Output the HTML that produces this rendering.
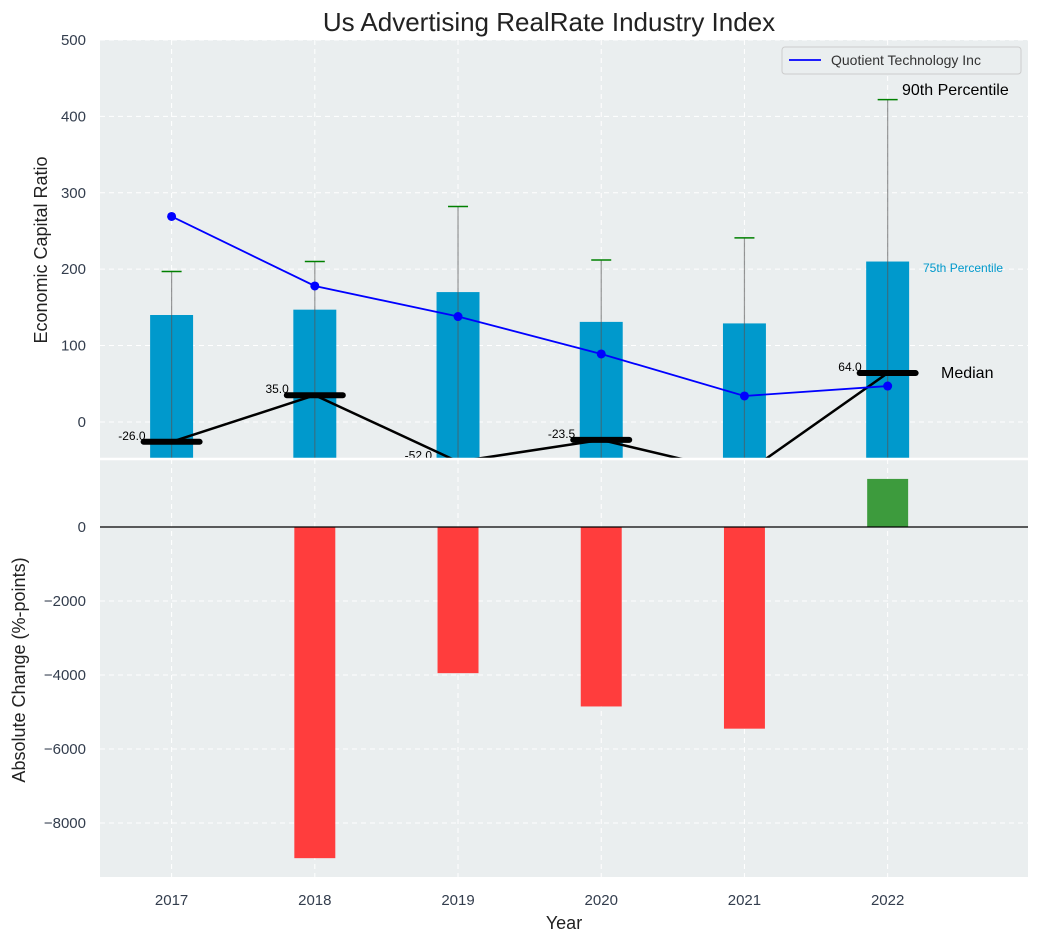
<!DOCTYPE html>
<html><head><meta charset="utf-8"><style>
body{margin:0;background:#fff;font-family:"Liberation Sans","DejaVu Sans",sans-serif}
</style></head><body>
<svg id="c" width="1039" height="942" xmlns="http://www.w3.org/2000/svg"></svg>
<script>
const years=[2017,2018,2019,2020,2021,2022];
const p75=[140,147,170,131,129,210];
const p90=[197,210,282,212,241,422];
const medians=[-26,35,-52,-23.5,-68,64];
const quotient=[269,178,138,89,34,47];
const changes=[0,-8950,-3950,-4850,-5450,1300];
const topTicks=[0,100,200,300,400,500];
const botTicks=[0,-2000,-4000,-6000,-8000];

const svg=document.getElementById('c');const NS='http://www.w3.org/2000/svg';
function el(t,a,p){const e=document.createElementNS(NS,t);for(const k in a)e.setAttribute(k,a[k]);(p||svg).appendChild(e);return e;}
const L=100,R=1028,T1=40,B1=459,T2=459,B2=877;
const x=v=>L+(v-2016.5)/(2022.98-2016.5)*(R-L);
const y1=v=>T1+(500-v)/(500+48.5)*(B1-T1);
const y2=v=>T2+(1838-v)/(1838+9459)*(B2-T2);
let t=el('text',{x:549,y:31,'text-anchor':'middle','font-size':26,fill:'#222'});t.textContent='Us Advertising RealRate Industry Index';

let bg=el('rect',{x:L,y:T1,width:R-L,height:B1-T1,fill:'#eaeeef'});
bg=el('rect',{x:L,y:T2,width:R-L,height:B2-T2,fill:'#eaeeef'});
const clip=el('clipPath',{id:'cp1'});el('rect',{x:L,y:T1,width:R-L,height:B1-T1},clip);
const clip2=el('clipPath',{id:'cp2'});el('rect',{x:L,y:T2,width:R-L,height:B2-T2},clip2);
const g1=el('g',{'clip-path':'url(#cp1)'});const g2=el('g',{'clip-path':'url(#cp2)'});
years.forEach(yr=>{el('line',{x1:x(yr),x2:x(yr),y1:T1,y2:B1,stroke:'#fff','stroke-dasharray':'5,4'},g1);el('line',{x1:x(yr),x2:x(yr),y1:T2,y2:B2,stroke:'#fff','stroke-dasharray':'5,4'},g2);
 let tx=el('text',{x:x(yr),y:905,'text-anchor':'middle','font-size':15,fill:'#333d4d'});tx.textContent=yr;});
topTicks.forEach(v=>{el('line',{x1:L,x2:R,y1:y1(v),y2:y1(v),stroke:'#fff','stroke-dasharray':'5,4'},g1);
 let tx=el('text',{x:86,y:y1(v)+5,'text-anchor':'end','font-size':15,fill:'#333d4d'});tx.textContent=v;});
botTicks.forEach(v=>{el('line',{x1:L,x2:R,y1:y2(v),y2:y2(v),stroke:'#fff','stroke-dasharray':'5,4'},g2);
 let tx=el('text',{x:86,y:y2(v)+5,'text-anchor':'end','font-size':15,fill:'#333d4d'});tx.textContent=v<0?'\u2212'+(-v):v;});
const bw=(x(2017.15)-x(2016.85));
years.forEach((yr,i)=>{let b=el('rect',{x:x(yr)-bw/2,y:y1(p75[i]),width:bw,height:y1(-60)-y1(p75[i]),fill:'#0099cc'},g1);
 let w=el('line',{x1:x(yr),x2:x(yr),y1:y1(p90[i]),y2:B1,stroke:'#555','stroke-opacity':0.6,'stroke-width':1.2},g1);
 let c=el('line',{x1:x(yr)-10,x2:x(yr)+10,y1:y1(p90[i]),y2:y1(p90[i]),stroke:'green','stroke-width':1.5},g1);});
let mp=el('polyline',{points:years.map((yr,i)=>x(yr)+','+y1(medians[i])).join(' '),fill:'none',stroke:'#000','stroke-width':2.5},g1);
years.forEach((yr,i)=>{let m=el('line',{x1:x(yr)-28,x2:x(yr)+28,y1:y1(medians[i]),y2:y1(medians[i]),stroke:'#000','stroke-width':6,'stroke-linecap':'round'},g1);
 const ly=y1(medians[i])-2;if(ly>B1+1)return;
 let tl=el('text',{x:x(yr)-26,y:ly,'text-anchor':'end','font-size':12,fill:'#000'},g1);tl.textContent=medians[i].toFixed(1);});
let ql=el('polyline',{points:years.map((yr,i)=>x(yr)+','+y1(quotient[i])).join(' '),fill:'none',stroke:'blue','stroke-width':1.8},g1);
years.forEach((yr,i)=>{let p=el('circle',{cx:x(yr),cy:y1(quotient[i]),r:4.5,fill:'blue'},g1);});
let a=el('text',{x:902,y:95,'font-size':16,fill:'#000'});a.textContent='90th Percentile';
a=el('text',{x:923,y:272,'font-size':12,fill:'#0099cc'});a.textContent='75th Percentile';
a=el('text',{x:941,y:378,'font-size':16,fill:'#000'});a.textContent='Median';
let lg=el('g',{});
el('rect',{x:782,y:47,width:239,height:27,rx:3,fill:'#eaeeef',stroke:'#ccc'},lg);
el('line',{x1:789,x2:821,y1:60,y2:60,stroke:'blue','stroke-width':1.8},lg);
let lt=el('text',{x:831,y:65,'font-size':14,fill:'#333'},lg);lt.textContent='Quotient Technology Inc';
years.forEach((yr,i)=>{if(!changes[i])return;const v=changes[i];let b=el('rect',{x:x(yr)-bw/2+1,y:Math.min(y2(v),y2(0)),width:bw-2,height:Math.abs(y2(v)-y2(0)),fill:v<0?'#ff3d3d':'#3d9b3d'},g2);});
el('line',{x1:L,x2:R,y1:y2(0),y2:y2(0),stroke:'#000','stroke-width':1.2});
el('line',{x1:L,x2:R,y1:459,y2:459,stroke:'#fff','stroke-width':2.5});
t=el('text',{x:564,y:929,'text-anchor':'middle','font-size':18,fill:'#222'});t.textContent='Year';
t=el('text',{x:47,y:250,'text-anchor':'middle','font-size':18,fill:'#222',transform:'rotate(-90 47 250)'});t.textContent='Economic Capital Ratio';
t=el('text',{x:25,y:670,'text-anchor':'middle','font-size':18,fill:'#222',transform:'rotate(-90 25 670)'});t.textContent='Absolute Change (%-points)';
</script></body></html>
